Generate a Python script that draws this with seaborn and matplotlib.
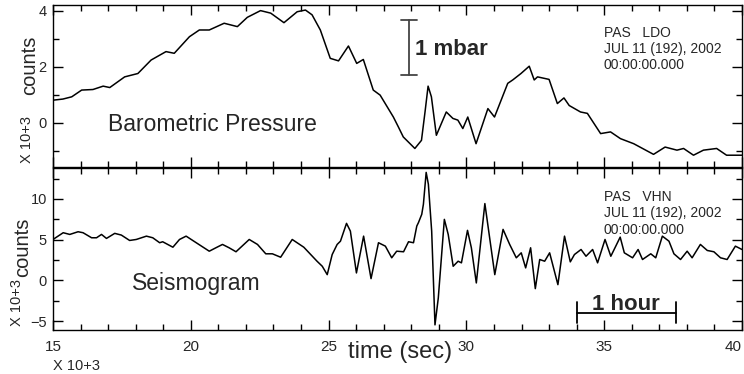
import matplotlib
matplotlib.use("Agg")
import matplotlib.pyplot as plt
import seaborn as sns

# time axis in units of 10^3 s
pressure_time = [15.00, 15.36, 15.68, 16.04, 16.45, 16.82, 17.06, 17.60, 18.08, 18.56,
                 19.10, 19.40, 19.95, 20.31, 20.67, 21.21, 21.69, 22.05, 22.53, 22.90,
                 23.38, 23.86, 24.16, 24.40, 24.70, 25.06, 25.36, 25.72, 26.02, 26.26,
                 26.62, 26.87, 27.35, 27.53, 27.71, 28.13, 28.37, 28.50, 28.61, 28.73,
                 28.91, 29.27, 29.51, 29.69, 29.87, 30.05, 30.35, 30.78, 31.02, 31.50,
                 31.68, 31.98, 32.28, 32.46, 32.58, 33.00, 33.30, 33.54, 33.73, 34.14,
                 34.39, 34.87, 35.23, 35.59, 36.07, 36.79, 37.21, 37.64, 37.88, 38.24,
                 38.60, 39.08, 39.44, 40.00]
pressure_counts = [0.81, 0.85, 0.93, 1.17, 1.19, 1.31, 1.26, 1.64, 1.76, 2.24,
                   2.54, 2.48, 3.07, 3.31, 3.31, 3.55, 3.43, 3.76, 4.00, 3.91,
                   3.57, 3.96, 4.02, 3.85, 3.31, 2.30, 2.21, 2.74, 2.12, 2.26,
                   1.17, 0.99, 0.21, -0.14, -0.50, -0.91, -0.62, 0.40, 1.31, 0.93,
                   -0.44, 0.39, 0.16, 0.10, -0.20, 0.21, -0.74, 0.51, 0.21, 1.41,
                   1.53, 1.76, 2.02, 1.53, 1.64, 1.55, 0.69, 0.89, 0.62, 0.39,
                   0.34, -0.38, -0.32, -0.56, -0.74, -1.12, -0.86, -0.97, -0.91, -1.15,
                   -0.97, -0.91, -1.15, -1.15]

seis_time = [15.00, 15.37, 15.61, 15.91, 16.09, 16.40, 16.58, 16.76, 16.94, 17.24,
             17.48, 17.78, 18.02, 18.39, 18.62, 18.87, 18.98, 19.35, 19.59, 19.83,
             20.07, 20.67, 20.91, 21.15, 21.39, 21.64, 22.12, 22.42, 22.72, 22.96,
             23.26, 23.68, 24.10, 24.58, 24.77, 24.95, 25.13, 25.31, 25.43, 25.65,
             25.79, 26.01, 26.27, 26.54, 26.81, 27.06, 27.29, 27.47, 27.72, 27.90,
             28.08, 28.20, 28.26, 28.38, 28.44, 28.54, 28.62, 28.74, 28.86, 28.98,
             29.20, 29.34, 29.52, 29.70, 29.82, 30.04, 30.18, 30.36, 30.67, 31.03,
             31.33, 31.57, 31.81, 31.99, 32.15, 32.33, 32.50, 32.66, 32.84, 33.02,
             33.32, 33.56, 33.77, 33.92, 34.16, 34.34, 34.58, 34.76, 35.03, 35.24,
             35.42, 35.58, 35.73, 36.03, 36.23, 36.39, 36.69, 36.87, 37.11, 37.35,
             37.53, 37.77, 38.01, 38.19, 38.49, 38.74, 38.98, 39.22, 39.46, 39.76,
             40.00]
seis_counts = [5.02, 5.85, 5.64, 5.97, 5.85, 5.23, 5.23, 5.64, 5.15, 5.77,
               5.56, 4.90, 5.02, 5.43, 5.23, 4.62, 4.74, 4.07, 5.02, 5.43,
               4.90, 3.58, 4.00, 4.41, 4.00, 3.51, 5.02, 4.41, 3.26, 3.26,
               2.84, 5.02, 4.07, 2.35, 1.73, 0.70, 3.17, 4.41, 4.81, 7.00,
               6.05, 0.91, 5.43, 0.21, 4.62, 4.20, 2.77, 3.58, 3.51, 4.74,
               4.62, 6.67, 7.09, 8.11, 9.35, 13.26, 11.81, 6.05, -5.47, -2.17,
               7.49, 5.64, 1.73, 2.35, 2.15, 6.14, 4.00, -0.32, 9.43, 0.70,
               6.26, 4.41, 2.77, 3.38, 1.53, 4.00, -1.02, 2.56, 2.35, 3.38,
               -0.53, 5.43, 2.27, 3.17, 3.79, 2.96, 3.79, 2.15, 5.02, 2.96,
               4.20, 5.31, 3.38, 2.77, 3.79, 2.56, 3.26, 2.77, 5.43, 4.81,
               3.26, 2.56, 3.58, 2.77, 4.41, 3.67, 3.51, 2.77, 2.56, 4.20,
               3.79]

x_ticks = [15, 20, 25, 30, 35, 40]

# scale bars (data coordinates)
mbar_x, mbar_y0, mbar_y1 = 27.90, 1.70, 3.67
hour_x0, hour_x1, hour_y = 34.0, 37.6, -4.0

sns.set_theme(style="ticks")
plt.rcParams['font.family'] = ['Liberation Sans', 'DejaVu Sans']

W, H = 744, 374
fig = plt.figure(figsize=(W / 100, H / 100), dpi=100)
ax1 = fig.add_axes([53 / W, 1 - 167 / H, 689 / W, 162 / H])
ax2 = fig.add_axes([53 / W, 1 - 330 / H, 689 / W, 162 / H])

sns.lineplot(x=pressure_time, y=pressure_counts, ax=ax1, color='black', lw=1.1)
sns.lineplot(x=seis_time, y=seis_counts, ax=ax2, color='black', lw=1.1)

for ax in (ax1, ax2):
    ax.set_xlim(15, 40)
    ax.set_xticks(x_ticks)
    ax.set_xticks(range(15, 41), minor=True)
    ax.tick_params(which='both', direction='in', top=True, right=True,
                   color='black', width=1.0)
    ax.tick_params(which='major', length=7)
    ax.tick_params(which='minor', length=4)
    ax.tick_params(axis='y', pad=4.5, labelsize=10.5)
    ax.tick_params(axis='x', pad=7, labelsize=11)
    for s in ax.spines.values():
        s.set_color('black')
        s.set_linewidth(1.0)
    ax.set_xlabel('')
    ax.set_ylabel('')

ax1.set_ylim(-1.57, 4.2)
ax1.set_yticks([0, 2, 4])
ax1.set_yticks([-1, 1, 3], minor=True)
ax1.tick_params(axis='x', labelbottom=False)

ax2.set_ylim(-6.1, 13.8)
ax2.set_yticks([-5, 0, 5, 10])
ax2.set_yticks([-2.5, 2.5, 7.5, 12.5], minor=True)
ax2.get_xticklabels()[-1].set_horizontalalignment('right')

# scale bars
ax1.plot([mbar_x, mbar_x], [mbar_y0, mbar_y1], color='#444444', lw=1.3)
ax1.plot([mbar_x - 0.29, mbar_x + 0.29], [mbar_y0, mbar_y0], color='#444444', lw=1.3)
ax1.plot([mbar_x - 0.29, mbar_x + 0.29], [mbar_y1, mbar_y1], color='#444444', lw=1.3)
ax2.plot([hour_x0, hour_x1], [hour_y, hour_y], color='black', lw=1.3)
ax2.plot([hour_x0, hour_x0], [-2.63, -5.22], color='black', lw=1.3)
ax2.plot([hour_x1, hour_x1], [-2.63, -5.22], color='black', lw=1.3)

ax1.text(28.15, 2.42, '1 mbar', fontsize=16, fontweight='bold', va='baseline')
ax2.text(34.54, -3.6, '1 hour', fontsize=16, fontweight='bold', va='baseline')
ax1.text(16.99, -0.30, 'Barometric Pressure', fontsize=16.5, va='baseline')
ax2.text(17.85, -1.23, 'Seismogram', fontsize=16.5, va='baseline')

info_top = ['PAS   LDO', 'JUL 11 (192), 2002', '00:00:00.000']
info_bot = ['PAS   VHN', 'JUL 11 (192), 2002', '00:00:00.000']
for txt, yy in zip(info_top, [3.06, 2.49, 1.92]):
    ax1.text(34.98, yy, txt, fontsize=10, va='baseline')
for txt, yy in zip(info_bot, [9.72, 7.74, 5.64]):
    ax2.text(34.98, yy, txt, fontsize=10, va='baseline')

fig.text(400 / W, 1 - 358 / H, 'time (sec)', fontsize=17, ha='center', va='baseline')
fig.text(53 / W, 1 - 370 / H, 'X 10+3', fontsize=10.5, va='baseline')
fig.text(30 / W, 1 - 65 / H, 'counts', fontsize=14.5, rotation=90, ha='center', va='center')
fig.text(27 / W, 1 - 140 / H, 'X 10+3', fontsize=10.5, rotation=90,
         ha='center', va='center')
fig.text(23 / W, 1 - 247 / H, 'counts', fontsize=14.5, rotation=90, ha='center', va='center')
fig.text(17 / W, 1 - 303 / H, 'X 10+3', fontsize=10.5, rotation=90,
         ha='center', va='center')

fig.savefig('out.png', dpi=100, facecolor='white')
